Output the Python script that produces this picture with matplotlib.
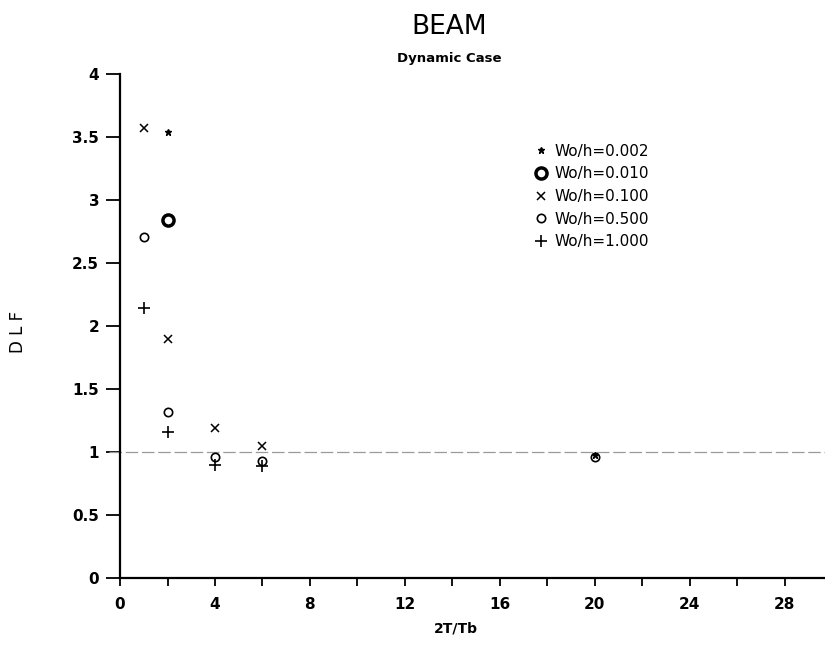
import matplotlib
matplotlib.use("Agg")
import matplotlib.pyplot as plt
from matplotlib.ticker import MultipleLocator

# data (x = 2T/Tb, y = DLF)
x_002 = [2, 20]
y_002 = [3.54, 0.975]
x_010 = [2]
y_010 = [2.84]
x_100 = [1, 2, 4, 6]
y_100 = [3.57, 1.90, 1.19, 1.05]
x_500 = [1, 2, 4, 6, 20]
y_500 = [2.71, 1.32, 0.96, 0.93, 0.96]
x_1000 = [1, 2, 4, 6]
y_1000 = [2.145, 1.156, 0.90, 0.89]

labels = ["Wo/h=0.002", "Wo/h=0.010", "Wo/h=0.100", "Wo/h=0.500", "Wo/h=1.000"]

plt.rcParams['font.family'] = ['DejaVu Sans']

fig = plt.figure(figsize=(8.25, 6.45), dpi=100)
ax = fig.add_axes([0.1455, 0.1039, 0.8545, 0.7814])

# reference line at DLF = 1
ax.axhline(1.0, xmin=-0.015, xmax=1, color='#9a9a9a', lw=0.9,
           dashes=(10, 3), clip_on=False)

ax.plot(x_002, y_002, ls='none', marker='*', ms=4.5, color='black', label=labels[0])
ax.plot(x_010, y_010, ls='none', marker='o', ms=8, mfc='white', mec='black',
        mew=2.5, label=labels[1])
ax.plot(x_100, y_100, ls='none', marker='x', ms=6, mew=1.1, color='black', label=labels[2])
ax.plot(x_500, y_500, ls='none', marker='o', ms=6, mfc='none', mec='black',
        mew=1.2, label=labels[3])
ax.plot(x_1000, y_1000, ls='none', marker='+', ms=9, mew=1.2, color='black', label=labels[4])

ax.set_xlim(0, 29.7)
ax.set_ylim(0, 4)
ax.xaxis.set_major_locator(MultipleLocator(4))
ax.xaxis.set_minor_locator(MultipleLocator(2))
ax.yaxis.set_major_locator(MultipleLocator(0.5))
ax.set_yticklabels([f"{v:g}" for v in ax.get_yticks()])

for s in ['top', 'right']:
    ax.spines[s].set_visible(False)
for s in ['left', 'bottom']:
    ax.spines[s].set_linewidth(1.6)

ax.tick_params(axis='x', which='both', direction='out', length=6, width=1.3,
               pad=8, labelsize=11)
ax.tick_params(axis='y', which='major', direction='out', length=10, width=1.3,
               pad=5, labelsize=11)
for t in ax.get_xticklabels() + ax.get_yticklabels():
    t.set_fontweight('bold')

leg = ax.legend(loc='upper left', bbox_to_anchor=(0.58, 0.874), frameon=False,
                handlelength=0.8, handletextpad=0.45, labelspacing=0.5,
                borderaxespad=0, prop={'size': 11})

fig.text(0.545, 0.958, "BEAM", ha='center', va='center', fontsize=19)
fig.text(0.545, 0.910, "Dynamic Case", ha='center', va='center', fontsize=9.5,
         fontweight='bold')
fig.text(0.552, 0.015, "2T/Tb", ha='center', va='bottom', fontsize=10,
         fontweight='bold')
fig.text(0.022, 0.485, "D L F", ha='center', va='center', rotation=90,
         fontsize=12)

fig.savefig("out.png", dpi=100)
